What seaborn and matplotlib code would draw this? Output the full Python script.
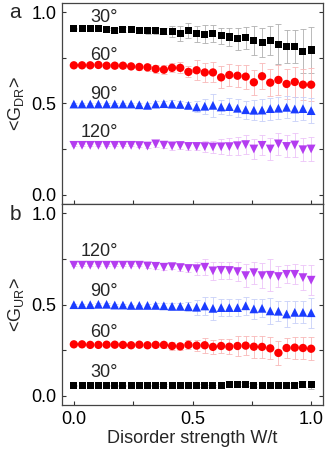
import numpy as np
import pandas as pd
import matplotlib
matplotlib.use('Agg')
import matplotlib.pyplot as plt
import seaborn as sns
from matplotlib.ticker import MultipleLocator

# disorder strength W/t, 30 points from 0 to 1
w = np.linspace(0, 1, 30)
angles = ['30°', '60°', '90°', '120°']

# panel a: <G_DR>
dr_30 = [0.910, 0.910, 0.908, 0.908, 0.907, 0.900, 0.906, 0.907, 0.900, 0.898,
         0.898, 0.896, 0.893, 0.883, 0.900, 0.882, 0.879, 0.884, 0.870, 0.864,
         0.855, 0.860, 0.846, 0.833, 0.843, 0.824, 0.810, 0.810, 0.786, 0.793]
dr_60 = [0.709, 0.709, 0.709, 0.711, 0.707, 0.707, 0.707, 0.703, 0.700, 0.698,
         0.689, 0.685, 0.695, 0.695, 0.673, 0.682, 0.670, 0.670, 0.643, 0.656,
         0.652, 0.647, 0.616, 0.649, 0.614, 0.629, 0.607, 0.618, 0.603, 0.603]
dr_90 = [0.497, 0.497, 0.497, 0.497, 0.497, 0.497, 0.497, 0.497, 0.493, 0.490,
         0.497, 0.499, 0.497, 0.495, 0.490, 0.481, 0.485, 0.490, 0.481, 0.483,
         0.474, 0.466, 0.463, 0.464, 0.472, 0.474, 0.479, 0.470, 0.472, 0.461]
dr_120 = [0.271, 0.271, 0.271, 0.271, 0.271, 0.271, 0.271, 0.271, 0.270, 0.267,
          0.279, 0.272, 0.268, 0.270, 0.265, 0.265, 0.264, 0.262, 0.263, 0.264,
          0.269, 0.275, 0.251, 0.271, 0.251, 0.279, 0.265, 0.273, 0.247, 0.251]

dr_30_err = [0.005, 0.005, 0.005, 0.005, 0.005, 0.015, 0.015, 0.015, 0.015, 0.015,
             0.015, 0.015, 0.030, 0.040, 0.040, 0.043, 0.050, 0.045, 0.045, 0.050,
             0.060, 0.060, 0.080, 0.080, 0.080, 0.110, 0.090, 0.090, 0.120, 0.125]
dr_60_err = [0.005, 0.005, 0.005, 0.008, 0.008, 0.010, 0.010, 0.010, 0.015, 0.020,
             0.020, 0.025, 0.025, 0.030, 0.030, 0.055, 0.050, 0.055, 0.060, 0.060,
             0.060, 0.065, 0.070, 0.070, 0.075, 0.080, 0.080, 0.080, 0.085, 0.090]
dr_90_err = [0.005, 0.005, 0.005, 0.005, 0.005, 0.005, 0.005, 0.005, 0.010, 0.015,
             0.015, 0.015, 0.020, 0.020, 0.020, 0.030, 0.040, 0.064, 0.040, 0.045,
             0.050, 0.050, 0.055, 0.060, 0.060, 0.060, 0.060, 0.065, 0.065, 0.068]
dr_120_err = [0.005, 0.005, 0.005, 0.005, 0.005, 0.005, 0.005, 0.005, 0.010, 0.010,
              0.015, 0.015, 0.020, 0.020, 0.020, 0.020, 0.030, 0.035, 0.040, 0.045,
              0.050, 0.050, 0.055, 0.055, 0.060, 0.060, 0.060, 0.064, 0.064, 0.064]

# panel b: <G_UR>
ur_30 = [0.058, 0.058, 0.058, 0.058, 0.058, 0.058, 0.058, 0.057, 0.057, 0.057,
         0.058, 0.058, 0.058, 0.057, 0.057, 0.057, 0.056, 0.056, 0.057, 0.064,
         0.064, 0.062, 0.056, 0.056, 0.057, 0.057, 0.057, 0.058, 0.064, 0.060]
ur_60 = [0.282, 0.282, 0.279, 0.279, 0.280, 0.280, 0.279, 0.277, 0.280, 0.277,
         0.279, 0.279, 0.273, 0.271, 0.279, 0.275, 0.277, 0.268, 0.273, 0.269,
         0.273, 0.275, 0.269, 0.268, 0.260, 0.235, 0.262, 0.264, 0.262, 0.258]
ur_90 = [0.499, 0.499, 0.499, 0.501, 0.501, 0.497, 0.497, 0.495, 0.495, 0.495,
         0.495, 0.493, 0.490, 0.490, 0.488, 0.485, 0.492, 0.479, 0.483, 0.483,
         0.483, 0.493, 0.476, 0.479, 0.465, 0.463, 0.448, 0.457, 0.457, 0.455]
ur_120 = [0.715, 0.715, 0.715, 0.715, 0.715, 0.715, 0.715, 0.715, 0.715, 0.711,
          0.709, 0.704, 0.707, 0.702, 0.697, 0.696, 0.704, 0.684, 0.687, 0.686,
          0.680, 0.658, 0.674, 0.658, 0.660, 0.653, 0.665, 0.665, 0.647, 0.633]

ur_30_err = [0.004, 0.004, 0.004, 0.004, 0.004, 0.004, 0.004, 0.004, 0.004, 0.004,
             0.005, 0.005, 0.005, 0.005, 0.005, 0.006, 0.006, 0.006, 0.008, 0.008,
             0.010, 0.010, 0.010, 0.012, 0.012, 0.012, 0.015, 0.015, 0.018, 0.020]
ur_60_err = [0.005, 0.005, 0.005, 0.005, 0.005, 0.008, 0.008, 0.008, 0.010, 0.010,
             0.010, 0.015, 0.020, 0.020, 0.025, 0.030, 0.040, 0.040, 0.040, 0.040,
             0.055, 0.050, 0.060, 0.060, 0.060, 0.064, 0.055, 0.060, 0.060, 0.064]
ur_90_err = [0.005, 0.005, 0.005, 0.005, 0.005, 0.005, 0.005, 0.005, 0.005, 0.010,
             0.012, 0.015, 0.020, 0.020, 0.025, 0.040, 0.050, 0.064, 0.045, 0.045,
             0.045, 0.050, 0.055, 0.050, 0.070, 0.055, 0.070, 0.060, 0.060, 0.082]
ur_120_err = [0.005, 0.005, 0.005, 0.005, 0.005, 0.005, 0.005, 0.005, 0.005, 0.010,
              0.012, 0.015, 0.015, 0.020, 0.020, 0.035, 0.045, 0.050, 0.045, 0.045,
              0.050, 0.064, 0.060, 0.070, 0.087, 0.055, 0.050, 0.055, 0.068, 0.082]

colors = ['#000000', '#ff0000', '#1a3cff', '#b43cf0']
err_colors = ['#b0b0b0', '#f8b8b8', '#c8d0f8', '#ecc4f8']
markers = ['s', 'o', '^', 'v']
sizes = [26, 36, 40, 40]

sns.set_style('ticks')
plt.rcParams['font.family'] = ['Liberation Sans', 'DejaVu Sans']
plt.rcParams['mathtext.fontset'] = 'custom'
plt.rcParams['mathtext.rm'] = 'Liberation Sans'
plt.rcParams['font.size'] = 13

fig = plt.figure(figsize=(3.27, 4.49), dpi=100)
ax_a = fig.add_axes([62 / 327, 1 - 204 / 449, 261 / 327, 201 / 449])
ax_b = fig.add_axes([62 / 327, 1 - 405 / 449, 261 / 327, 201 / 449])


def draw_panel(ax, ys, errs, label_pos, ylabel):
    for i in range(4):
        df = pd.DataFrame({'W': w, 'G': ys[i], 'err': errs[i]})
        ax.errorbar(df['W'], df['G'], yerr=df['err'], fmt='none',
                    ecolor=err_colors[i], elinewidth=0.6, capsize=2,
                    capthick=0.6, zorder=1)
        sns.scatterplot(data=df, x='W', y='G', ax=ax, marker=markers[i],
                        color=colors[i], s=sizes[i], edgecolor='none',
                        linewidth=0, zorder=3, legend=False)
        ax.text(0.185, label_pos[i], angles[i], ha='right', va='center',
                fontsize=13)
    ax.set_xlim(-0.05, 1.05)
    ax.set_ylim(-0.05, 1.05)
    ax.xaxis.set_major_locator(MultipleLocator(0.5))
    ax.xaxis.set_minor_locator(MultipleLocator(0.25))
    ax.yaxis.set_major_locator(MultipleLocator(0.5))
    ax.yaxis.set_minor_locator(MultipleLocator(0.25))
    ax.tick_params(which='both', direction='in', length=3, width=0.8,
                   right=True, top=False, labelsize=13, pad=4,
                   colors='#333333', labelcolor='black')
    for sp in ax.spines.values():
        sp.set_color('#444444')
        sp.set_linewidth(0.9)
    ax.set_ylabel(ylabel, fontsize=13, labelpad=4)
    ax.set_xlabel('')


draw_panel(ax_a, [dr_30, dr_60, dr_90, dr_120],
           [dr_30_err, dr_60_err, dr_90_err, dr_120_err],
           [0.97, 0.765, 0.548, 0.34], r'<G$_{\mathrm{DR}}$>')
draw_panel(ax_b, [ur_30, ur_60, ur_90, ur_120],
           [ur_30_err, ur_60_err, ur_90_err, ur_120_err],
           [0.126, 0.345, 0.569, 0.788], r'<G$_{\mathrm{UR}}$>')

ax_a.tick_params(labelbottom=False)
ax_b.set_xlabel('Disorder strength W/t', fontsize=13, labelpad=2)

fig.text(15 / 327, 1 - 13 / 449, 'a', fontsize=15, ha='center', va='center')
fig.text(15 / 327, 1 - 214 / 449, 'b', fontsize=15, ha='center', va='center')

fig.savefig('out.png', dpi=100)
